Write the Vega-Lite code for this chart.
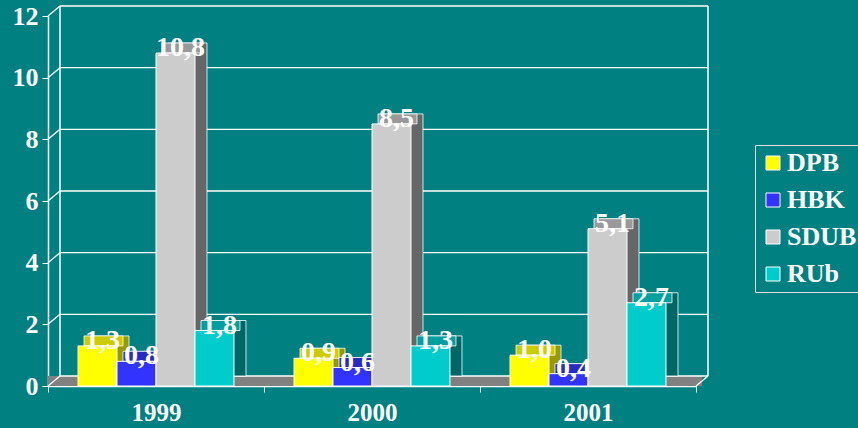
{
  "$schema": "https://vega.github.io/schema/vega-lite/v6.json",
  "width": 648,
  "height": 370,
  "autosize": {"type": "none"},
  "padding": {"left": 48, "top": 16, "right": 162, "bottom": 42},
  "background": "#008080",
  "config": {
    "view": {"stroke": null},
    "locale": {"number": {"decimal": ",", "thousands": ".", "grouping": [3], "currency": ["", ""]}},
    "font": "Liberation Serif"
  },
  "data": {"values": [
    {"year": "1999", "series": "DPB", "value": 1.3},
    {"year": "1999", "series": "HBK", "value": 0.8},
    {"year": "1999", "series": "SDUB", "value": 10.8},
    {"year": "1999", "series": "RUb", "value": 1.8},
    {"year": "2000", "series": "DPB", "value": 0.9},
    {"year": "2000", "series": "HBK", "value": 0.6},
    {"year": "2000", "series": "SDUB", "value": 8.5},
    {"year": "2000", "series": "RUb", "value": 1.3},
    {"year": "2001", "series": "DPB", "value": 1.0},
    {"year": "2001", "series": "HBK", "value": 0.4},
    {"year": "2001", "series": "SDUB", "value": 5.1},
    {"year": "2001", "series": "RUb", "value": 2.7}
  ]},
  "layer": [
    {
      "data": {"values": [{"part": "floor"}]},
      "mark": {"type": "rect", "fill": "#808080", "xOffset": 6, "x2Offset": 6, "yOffset": -10, "y2Offset": 0},
      "encoding": {
        "y": {"datum": 0, "type": "quantitative", "scale": {"domain": [0, 12], "nice": false}},
        "y2": {"datum": 0}
      }
    },
    {
      "data": {"values": [{"v": 0}, {"v": 2}, {"v": 4}, {"v": 6}, {"v": 8}, {"v": 10}, {"v": 12}]},
      "mark": {"type": "rule", "color": "#ffffff", "strokeWidth": 1.3, "xOffset": 12, "x2Offset": 12, "yOffset": -10, "y2Offset": -10},
      "encoding": {
        "x": {"datum": "1999", "bandPosition": 0},
        "x2": {"datum": "2001", "bandPosition": 1},
        "y": {"field": "v", "type": "quantitative"}
      }
    },
    {
      "data": {"values": [{"v": 0}, {"v": 2}, {"v": 4}, {"v": 6}, {"v": 8}, {"v": 10}, {"v": 12}]},
      "mark": {"type": "rule", "color": "#ffffff", "strokeWidth": 1.3, "x2Offset": 12, "y2Offset": -10},
      "encoding": {
        "x": {"datum": "1999", "bandPosition": 0},
        "x2": {"datum": "1999", "bandPosition": 0},
        "y": {"field": "v", "type": "quantitative"},
        "y2": {"field": "v"}
      }
    },
    {
      "data": {"values": [{"part": "left wall"}]},
      "mark": {"type": "rule", "color": "#ffffff", "strokeWidth": 1.5, "xOffset": 12, "yOffset": -10, "y2Offset": -10},
      "encoding": {
        "x": {"datum": "1999", "bandPosition": 0},
        "y": {"datum": 0, "type": "quantitative"},
        "y2": {"datum": 12}
      }
    },
    {
      "data": {"values": [{"part": "right wall"}]},
      "mark": {"type": "rule", "color": "#ffffff", "strokeWidth": 1.5, "xOffset": 12, "yOffset": -10, "y2Offset": -10},
      "encoding": {
        "x": {"datum": "2001", "bandPosition": 1},
        "y": {"datum": 0, "type": "quantitative"},
        "y2": {"datum": 12}
      }
    },
    {
      "data": {"values": [{"part": "floor edge"}]},
      "mark": {"type": "rule", "color": "#ffffff", "strokeWidth": 1.3, "x2Offset": 12, "y2Offset": -10},
      "encoding": {
        "x": {"datum": "2001", "bandPosition": 1},
        "x2": {"datum": "2001", "bandPosition": 1},
        "y": {"datum": 0, "type": "quantitative"},
        "y2": {"datum": 0}
      }
    },
    {
      "mark": {"type": "bar", "yOffset": -10, "y2Offset": -10, "stroke": "#ffffff", "strokeWidth": 0.8},
      "encoding": {
        "x": {"field": "year", "type": "nominal", "scale": {"paddingInner": 0, "paddingOuter": 0}},
        "xOffset": {"field": "series", "type": "nominal", "sort": ["DPB", "HBK", "SDUB", "RUb"], "scale": {"range": [12, 228], "paddingInner": 0, "paddingOuter": 0.77}},
        "y": {"field": "value", "type": "quantitative"},
        "color": {"field": "series", "type": "nominal", "sort": ["DPB", "HBK", "SDUB", "RUb"], "scale": {"domain": ["DPB", "HBK", "SDUB", "RUb"], "range": ["#999900", "#1a1a99", "#666666", "#006666"]}, "legend": null}
      }
    },
    {
      "mark": {"type": "bar", "yOffset": -10, "y2Offset": 0, "stroke": "#ffffff", "strokeWidth": 0.8},
      "encoding": {
        "x": {"field": "year", "type": "nominal"},
        "xOffset": {"field": "series", "type": "nominal", "sort": ["DPB", "HBK", "SDUB", "RUb"], "scale": {"range": [6, 222], "paddingInner": 0, "paddingOuter": 0.77}},
        "y": {"field": "value", "type": "quantitative"},
        "y2": {"field": "value"},
        "color": {"field": "series", "type": "nominal", "sort": ["DPB", "HBK", "SDUB", "RUb"], "scale": {"domain": ["DPB", "HBK", "SDUB", "RUb"], "range": ["#cccc00", "#2929c4", "#999999", "#00a0a0"]}, "legend": null}
      }
    },
    {
      "mark": {"type": "bar", "stroke": "#ffffff", "strokeWidth": 1},
      "encoding": {
        "x": {
          "field": "year", "type": "nominal",
          "axis": {"title": null, "labelAngle": 0, "labelAlign": "center", "labelBaseline": "top", "labelFont": "Liberation Serif", "labelFontSize": 25, "labelFontWeight": "bold", "labelColor": "#ffffff", "labelPadding": 8, "domainColor": "#ffffff", "domainWidth": 1.5, "tickColor": "#ffffff", "tickSize": 6, "tickBand": "extent"}
        },
        "xOffset": {"field": "series", "type": "nominal", "sort": ["DPB", "HBK", "SDUB", "RUb"], "scale": {"paddingInner": 0, "paddingOuter": 0.77}},
        "y": {
          "field": "value", "type": "quantitative",
          "axis": {"title": null, "values": [0, 2, 4, 6, 8, 10, 12], "grid": false, "labelFont": "Liberation Serif", "labelFontSize": 26, "labelFontWeight": "bold", "labelColor": "#ffffff", "labelPadding": 4, "domainColor": "#ffffff", "domainWidth": 1.5, "tickColor": "#ffffff", "tickSize": 6}
        },
        "color": {
          "field": "series", "type": "nominal", "sort": ["DPB", "HBK", "SDUB", "RUb"],
          "scale": {"domain": ["DPB", "HBK", "SDUB", "RUb"], "range": ["#ffff00", "#3333ff", "#cccccc", "#00cccc"]},
          "legend": {"title": null, "orient": "none", "legendX": 707, "legendY": 129, "padding": 5, "strokeColor": "#dddddd", "symbolType": "square", "symbolSize": 196, "symbolStrokeColor": "#ffffff", "symbolStrokeWidth": 1, "symbolOpacity": 1, "labelFont": "Liberation Serif", "labelFontSize": 26, "labelFontWeight": "bold", "labelColor": "#ffffff", "labelOffset": 1, "rowPadding": 11}
        }
      }
    },
    {
      "mark": {"type": "text", "font": "Liberation Serif", "fontSize": 28, "fontWeight": "bold", "color": "#ffffff", "baseline": "alphabetic", "dx": 5, "dy": 3},
      "encoding": {
        "x": {"field": "year", "type": "nominal"},
        "xOffset": {"field": "series", "type": "nominal", "sort": ["DPB", "HBK", "SDUB", "RUb"], "scale": {"type": "band", "paddingInner": 0, "paddingOuter": 0.77}},
        "y": {"field": "value", "type": "quantitative"},
        "text": {"field": "value", "type": "quantitative", "format": ".1f"}
      }
    }
  ],
  "resolve": {"scale": {"xOffset": "independent", "color": "independent"}}
}
